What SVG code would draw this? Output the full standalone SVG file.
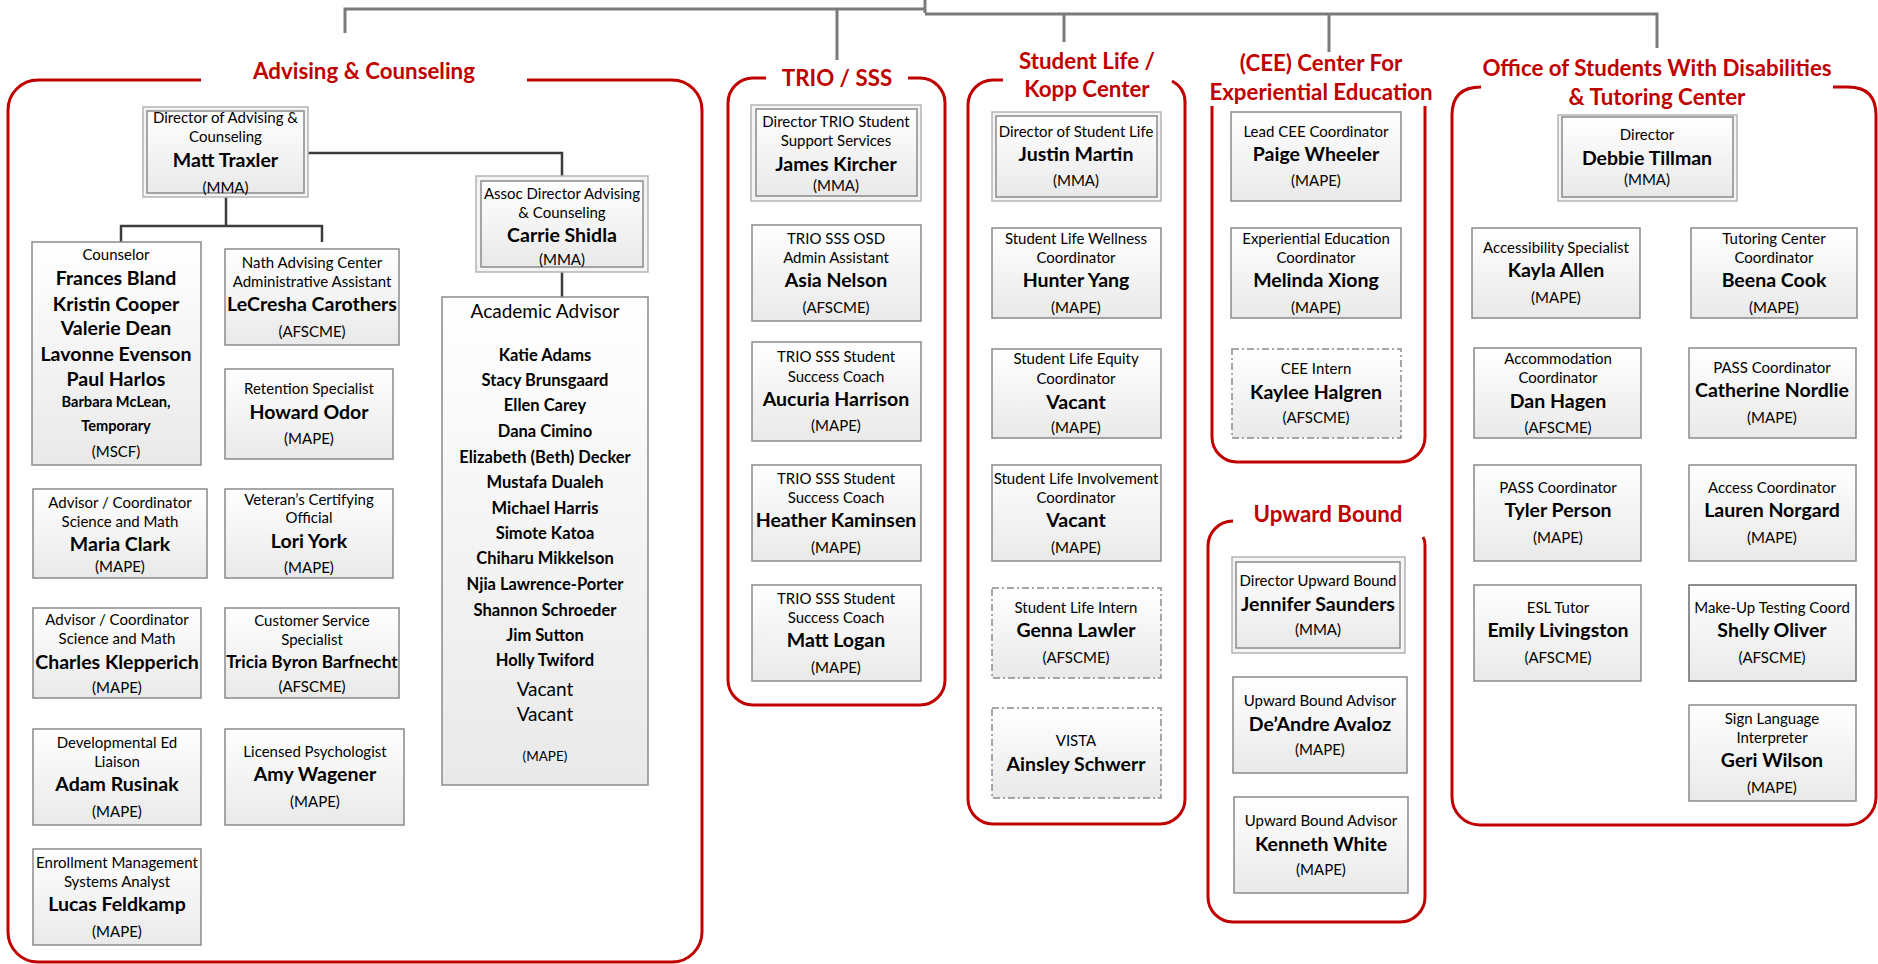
<svg xmlns="http://www.w3.org/2000/svg" width="1878" height="964" viewBox="0 0 1878 964">
<defs>
<linearGradient id="g" x1="0" y1="0" x2="0" y2="1"><stop offset="0" stop-color="#ffffff"/><stop offset="1" stop-color="#e9e9e9"/></linearGradient>
<style>
text{font-family:Lato,"Open Sans",sans-serif;fill:#000;text-anchor:middle;dominant-baseline:central}
.t{font-size:15px}
.n{font-size:19.5px;font-weight:bold}
.na{font-size:16.5px;font-weight:bold}
.u{font-size:15px}
.gt{font-size:22.3px;font-weight:bold;fill:#c00000}
.b{fill:url(#g);stroke:#8a8a8a;stroke-width:1.5}
.bo{fill:#f4f4f4;stroke:#b4b4b4;stroke-width:1.5}
.bi{fill:url(#g);stroke:#8a8a8a;stroke-width:1.5}
.bd{fill:url(#g);stroke:#8a8a8a;stroke-width:1.5;stroke-dasharray:7 3 2 3}
.grp{fill:none;stroke:#c00000;stroke-width:3}
.ct{fill:none;stroke:#7a7a7a;stroke-width:3}
.ci{fill:none;stroke:#3c3c3c;stroke-width:2.5}
</style>
</defs>
<rect width="1878" height="964" fill="#fff"/>

<g id="connectors">
<path class="ct" d="M925,0 V13 M925,9 H345 V33 M837,9 V60 M925,14 H1657 V48 M1064,14 V42 M1329,14 V52"/>
<path class="ci" d="M308,153 H562 V176 M562,272 V297 M226,197 V226 M121,242 V226 H322 V242"/>
</g>

<g id="group-advising">
<path class="grp" d="M201,80 H38 A30,30 0 0 0 8,110 V932 A30,30 0 0 0 38,962 H672 A30,30 0 0 0 702,932 V110 A30,30 0 0 0 672,80 H527"/>
<text class="gt" x="364" y="70">Advising &amp; Counseling</text>
</g>
<g id="group-trio">
<path class="grp" d="M766,78 H753 A25,25 0 0 0 728,103 V680 A25,25 0 0 0 753,705 H920 A25,25 0 0 0 945,680 V103 A25,25 0 0 0 920,78 H908"/>
<text class="gt" x="837" y="77">TRIO / SSS</text>
</g>
<g id="group-studentlife">
<path class="grp" d="M1003,80 H993 A25,25 0 0 0 968,105 V799 A25,25 0 0 0 993,824 H1160 A25,25 0 0 0 1185,799 V102 Q1185,88 1172,81"/>
<text class="gt" x="1087" y="60">Student Life /</text>
<text class="gt" x="1087" y="88">Kopp Center</text>
</g>
<g id="group-cee">
<path class="grp" d="M1212,106 V437 A25,25 0 0 0 1237,462 H1400 A25,25 0 0 0 1425,437 V106"/>
<text class="gt" x="1321" y="62">(CEE) Center For</text>
<text class="gt" x="1321" y="91">Experiential Education</text>
</g>
<g id="group-upward">
<path class="grp" d="M1233,521 A25,25 0 0 0 1208,546 V897 A25,25 0 0 0 1233,922 H1400 A25,25 0 0 0 1425,897 V545 Q1425,540 1423,537"/>
<text class="gt" x="1328" y="513">Upward Bound</text>
</g>
<g id="group-office">
<path class="grp" d="M1481,87 Q1452,87 1452,115 V797 A28,28 0 0 0 1480,825 H1848 A28,28 0 0 0 1876,797 V115 Q1876,87 1848,87 H1833"/>
<text class="gt" x="1657" y="67">Office of Students With Disabilities</text>
<text class="gt" x="1657" y="96">&amp; Tutoring Center</text>
</g>

<!-- Advising nodes -->
<g id="matt-traxler">
<rect class="bo" x="143" y="107" width="165" height="90"/><rect class="bi" x="147" y="111" width="157" height="82"/>
<text class="t" x="225.5" y="117">Director of Advising &amp;</text>
<text class="t" x="225.5" y="136">Counseling</text>
<text class="n" x="225.5" y="159">Matt Traxler</text>
<text class="u" x="225.5" y="187">(MMA)</text>
</g>
<g id="carrie-shidla">
<rect class="bo" x="476" y="176" width="172" height="96"/><rect class="bi" x="481" y="181" width="162" height="86"/>
<text class="t" x="562" y="193">Assoc Director Advising</text>
<text class="t" x="562" y="212">&amp; Counseling</text>
<text class="n" x="562" y="234">Carrie Shidla</text>
<text class="u" x="562" y="259">(MMA)</text>
</g>
<g id="academic-advisor">
<rect class="b" x="442" y="297" width="206" height="488"/>
<text x="545" y="310" style="font-size:19px">Academic Advisor</text>
<text class="na" x="545" y="355">Katie Adams</text>
<text class="na" x="545" y="380">Stacy Brunsgaard</text>
<text class="na" x="545" y="405">Ellen Carey</text>
<text class="na" x="545" y="431">Dana Cimino</text>
<text class="na" x="545" y="457">Elizabeth (Beth) Decker</text>
<text class="na" x="545" y="482">Mustafa Dualeh</text>
<text class="na" x="545" y="508">Michael Harris</text>
<text class="na" x="545" y="533">Simote Katoa</text>
<text class="na" x="545" y="558">Chiharu Mikkelson</text>
<text class="na" x="545" y="584">Njia Lawrence-Porter</text>
<text class="na" x="545" y="610">Shannon Schroeder</text>
<text class="na" x="545" y="635">Jim Sutton</text>
<text class="na" x="545" y="660">Holly Twiford</text>
<text x="545" y="688" style="font-size:19px">Vacant</text>
<text x="545" y="713" style="font-size:19px">Vacant</text>
<text x="545" y="756" style="font-size:13.5px">(MAPE)</text>
</g>
<g id="counselors">
<rect class="b" x="32" y="242" width="169" height="223"/>
<text class="t" x="116" y="254">Counselor</text>
<text class="n" x="116" y="277">Frances Bland</text>
<text class="n" x="116" y="303">Kristin Cooper</text>
<text class="n" x="116" y="327">Valerie Dean</text>
<text class="n" x="116" y="353">Lavonne Evenson</text>
<text class="n" x="116" y="378">Paul Harlos</text>
<text x="116" y="401" style="font-size:14.6px;font-weight:bold">Barbara McLean,</text>
<text x="116" y="425" style="font-size:14.6px;font-weight:bold">Temporary</text>
<text class="u" x="116" y="451">(MSCF)</text>
</g>
<g id="lecresha-carothers">
<rect class="b" x="225" y="249" width="174" height="96"/>
<text class="t" x="312" y="262">Nath Advising Center</text>
<text class="t" x="312" y="281">Administrative Assistant</text>
<text class="n" x="312" y="303">LeCresha Carothers</text>
<text class="u" x="312" y="331">(AFSCME)</text>
</g>
<g id="howard-odor">
<rect class="b" x="225" y="369" width="168" height="90"/>
<text class="t" x="309" y="388">Retention Specialist</text>
<text class="n" x="309" y="411">Howard Odor</text>
<text class="u" x="309" y="438">(MAPE)</text>
</g>
<g id="maria-clark">
<rect class="b" x="33" y="489" width="174" height="89"/>
<text class="t" x="120" y="502">Advisor / Coordinator</text>
<text class="t" x="120" y="521">Science and Math</text>
<text class="n" x="120" y="543">Maria Clark</text>
<text class="u" x="120" y="566">(MAPE)</text>
</g>
<g id="lori-york">
<rect class="b" x="225" y="489" width="168" height="89"/>
<text class="t" x="309" y="499">Veteran’s Certifying</text>
<text class="t" x="309" y="517">Official</text>
<text class="n" x="309" y="540">Lori York</text>
<text class="u" x="309" y="567">(MAPE)</text>
</g>
<g id="charles-klepperich">
<rect class="b" x="33" y="608" width="168" height="90"/>
<text class="t" x="117" y="619">Advisor / Coordinator</text>
<text class="t" x="117" y="638">Science and Math</text>
<text class="n" x="117" y="661">Charles Klepperich</text>
<text class="u" x="117" y="687">(MAPE)</text>
</g>
<g id="tricia-byron-barfnecht">
<rect class="b" x="225" y="608" width="174" height="90"/>
<text class="t" x="312" y="620">Customer Service</text>
<text class="t" x="312" y="639">Specialist</text>
<text class="n" x="312" y="661" style="font-size:17.3px">Tricia Byron Barfnecht</text>
<text class="u" x="312" y="686">(AFSCME)</text>
</g>
<g id="adam-rusinak">
<rect class="b" x="33" y="729" width="168" height="96"/>
<text class="t" x="117" y="742">Developmental Ed</text>
<text class="t" x="117" y="761">Liaison</text>
<text class="n" x="117" y="783">Adam Rusinak</text>
<text class="u" x="117" y="811">(MAPE)</text>
</g>
<g id="amy-wagener">
<rect class="b" x="225" y="729" width="179" height="96"/>
<text class="t" x="315" y="751">Licensed Psychologist</text>
<text class="n" x="315" y="773">Amy Wagener</text>
<text class="u" x="315" y="801">(MAPE)</text>
</g>
<g id="lucas-feldkamp">
<rect class="b" x="33" y="849" width="168" height="96"/>
<text class="t" x="117" y="862">Enrollment Management</text>
<text class="t" x="117" y="881">Systems Analyst</text>
<text class="n" x="117" y="903">Lucas Feldkamp</text>
<text class="u" x="117" y="931">(MAPE)</text>
</g>

<!-- TRIO nodes -->
<g id="james-kircher">
<rect class="bo" x="751" y="105" width="170" height="96"/><rect class="bi" x="756" y="109" width="161" height="87"/>
<text class="t" x="836" y="121">Director TRIO Student</text>
<text class="t" x="836" y="140">Support Services</text>
<text class="n" x="836" y="163">James Kircher</text>
<text class="u" x="836" y="185">(MMA)</text>
</g>
<g id="asia-nelson">
<rect class="b" x="752" y="225" width="169" height="96"/>
<text class="t" x="836" y="238">TRIO SSS OSD</text>
<text class="t" x="836" y="257">Admin Assistant</text>
<text class="n" x="836" y="279">Asia Nelson</text>
<text class="u" x="836" y="307">(AFSCME)</text>
</g>
<g id="aucuria-harrison">
<rect class="b" x="752" y="342" width="169" height="99"/>
<text class="t" x="836" y="356">TRIO SSS Student</text>
<text class="t" x="836" y="376">Success Coach</text>
<text class="n" x="836" y="398">Aucuria Harrison</text>
<text class="u" x="836" y="425">(MAPE)</text>
</g>
<g id="heather-kaminsen">
<rect class="b" x="752" y="465" width="169" height="96"/>
<text class="t" x="836" y="478">TRIO SSS Student</text>
<text class="t" x="836" y="497">Success Coach</text>
<text class="n" x="836" y="519">Heather Kaminsen</text>
<text class="u" x="836" y="547">(MAPE)</text>
</g>
<g id="matt-logan">
<rect class="b" x="752" y="585" width="169" height="96"/>
<text class="t" x="836" y="598">TRIO SSS Student</text>
<text class="t" x="836" y="617">Success Coach</text>
<text class="n" x="836" y="639">Matt Logan</text>
<text class="u" x="836" y="667">(MAPE)</text>
</g>

<!-- Student Life nodes -->
<g id="justin-martin">
<rect class="bo" x="992" y="112" width="169" height="89"/><rect class="bi" x="996" y="116" width="161" height="81"/>
<text class="t" x="1076" y="131">Director of Student Life</text>
<text class="n" x="1076" y="153">Justin Martin</text>
<text class="u" x="1076" y="180">(MMA)</text>
</g>
<g id="hunter-yang">
<rect class="b" x="992" y="228" width="169" height="90"/>
<text class="t" x="1076" y="238">Student Life Wellness</text>
<text class="t" x="1076" y="257">Coordinator</text>
<text class="n" x="1076" y="279">Hunter Yang</text>
<text class="u" x="1076" y="307">(MAPE)</text>
</g>
<g id="equity-coordinator">
<rect class="b" x="992" y="349" width="169" height="89"/>
<text class="t" x="1076" y="358">Student Life Equity</text>
<text class="t" x="1076" y="378">Coordinator</text>
<text class="n" x="1076" y="401">Vacant</text>
<text class="u" x="1076" y="427">(MAPE)</text>
</g>
<g id="involvement-coordinator">
<rect class="b" x="992" y="465" width="169" height="96"/>
<text class="t" x="1076" y="478">Student Life Involvement</text>
<text class="t" x="1076" y="497">Coordinator</text>
<text class="n" x="1076" y="519">Vacant</text>
<text class="u" x="1076" y="547">(MAPE)</text>
</g>
<g id="genna-lawler">
<rect class="bd" x="992" y="588" width="169" height="90"/>
<text class="t" x="1076" y="607">Student Life Intern</text>
<text class="n" x="1076" y="629">Genna Lawler</text>
<text class="u" x="1076" y="657">(AFSCME)</text>
</g>
<g id="ainsley-schwerr">
<rect class="bd" x="992" y="708" width="169" height="90"/>
<text class="t" x="1076" y="740">VISTA</text>
<text class="n" x="1076" y="763">Ainsley Schwerr</text>
</g>

<!-- CEE nodes -->
<g id="paige-wheeler">
<rect class="b" x="1231" y="112" width="170" height="89"/>
<text class="t" x="1316" y="131">Lead CEE Coordinator</text>
<text class="n" x="1316" y="153">Paige Wheeler</text>
<text class="u" x="1316" y="180">(MAPE)</text>
</g>
<g id="melinda-xiong">
<rect class="b" x="1231" y="228" width="170" height="90"/>
<text class="t" x="1316" y="238">Experiential Education</text>
<text class="t" x="1316" y="257">Coordinator</text>
<text class="n" x="1316" y="279">Melinda Xiong</text>
<text class="u" x="1316" y="307">(MAPE)</text>
</g>
<g id="kaylee-halgren">
<rect class="bd" x="1232" y="349" width="169" height="89"/>
<text class="t" x="1316" y="368">CEE Intern</text>
<text class="n" x="1316" y="391">Kaylee Halgren</text>
<text class="u" x="1316" y="417">(AFSCME)</text>
</g>

<!-- Upward Bound nodes -->
<g id="jennifer-saunders">
<rect class="bo" x="1232" y="557" width="173" height="96"/><rect class="bi" x="1236" y="562" width="164" height="86"/>
<text class="t" x="1318" y="580">Director Upward Bound</text>
<text class="n" x="1318" y="603">Jennifer Saunders</text>
<text class="u" x="1318" y="629">(MMA)</text>
</g>
<g id="deandre-avaloz">
<rect class="b" x="1233" y="677" width="174" height="96"/>
<text class="t" x="1320" y="700">Upward Bound Advisor</text>
<text class="n" x="1320" y="723">De’Andre Avaloz</text>
<text class="u" x="1320" y="749">(MAPE)</text>
</g>
<g id="kenneth-white">
<rect class="b" x="1234" y="797" width="174" height="96"/>
<text class="t" x="1321" y="820">Upward Bound Advisor</text>
<text class="n" x="1321" y="843">Kenneth White</text>
<text class="u" x="1321" y="869">(MAPE)</text>
</g>

<!-- Office nodes -->
<g id="debbie-tillman">
<rect class="bo" x="1558" y="115" width="179" height="86"/><rect class="bi" x="1562" y="117" width="171" height="80"/>
<text class="t" x="1647" y="134">Director</text>
<text class="n" x="1647" y="157">Debbie Tillman</text>
<text class="u" x="1647" y="179">(MMA)</text>
</g>
<g id="kayla-allen">
<rect class="b" x="1472" y="228" width="168" height="90"/>
<text class="t" x="1556" y="247">Accessibility Specialist</text>
<text class="n" x="1556" y="269">Kayla Allen</text>
<text class="u" x="1556" y="297">(MAPE)</text>
</g>
<g id="beena-cook">
<rect class="b" x="1691" y="228" width="166" height="90"/>
<text class="t" x="1774" y="238">Tutoring Center</text>
<text class="t" x="1774" y="257">Coordinator</text>
<text class="n" x="1774" y="279">Beena Cook</text>
<text class="u" x="1774" y="307">(MAPE)</text>
</g>
<g id="dan-hagen">
<rect class="b" x="1474" y="348" width="167" height="90"/>
<text class="t" x="1558" y="358">Accommodation</text>
<text class="t" x="1558" y="377">Coordinator</text>
<text class="n" x="1558" y="400">Dan Hagen</text>
<text class="u" x="1558" y="427">(AFSCME)</text>
</g>
<g id="catherine-nordlie">
<rect class="b" x="1689" y="348" width="167" height="90"/>
<text class="t" x="1772" y="367">PASS Coordinator</text>
<text class="n" x="1772" y="389">Catherine Nordlie</text>
<text class="u" x="1772" y="417">(MAPE)</text>
</g>
<g id="tyler-person">
<rect class="b" x="1474" y="465" width="167" height="96"/>
<text class="t" x="1558" y="487">PASS Coordinator</text>
<text class="n" x="1558" y="509">Tyler Person</text>
<text class="u" x="1558" y="537">(MAPE)</text>
</g>
<g id="lauren-norgard">
<rect class="b" x="1689" y="465" width="167" height="96"/>
<text class="t" x="1772" y="487">Access Coordinator</text>
<text class="n" x="1772" y="509">Lauren Norgard</text>
<text class="u" x="1772" y="537">(MAPE)</text>
</g>
<g id="emily-livingston">
<rect class="b" x="1474" y="585" width="167" height="96"/>
<text class="t" x="1558" y="607">ESL Tutor</text>
<text class="n" x="1558" y="629">Emily Livingston</text>
<text class="u" x="1558" y="657">(AFSCME)</text>
</g>
<g id="shelly-oliver">
<rect class="b" x="1689" y="585" width="167" height="96" style="stroke:#6a6a6a"/>
<text class="t" x="1772" y="607">Make-Up Testing Coord</text>
<text class="n" x="1772" y="629">Shelly Oliver</text>
<text class="u" x="1772" y="657">(AFSCME)</text>
</g>
<g id="geri-wilson">
<rect class="b" x="1689" y="705" width="167" height="96"/>
<text class="t" x="1772" y="718">Sign Language</text>
<text class="t" x="1772" y="737">Interpreter</text>
<text class="n" x="1772" y="759">Geri Wilson</text>
<text class="u" x="1772" y="787">(MAPE)</text>
</g>
</svg>
